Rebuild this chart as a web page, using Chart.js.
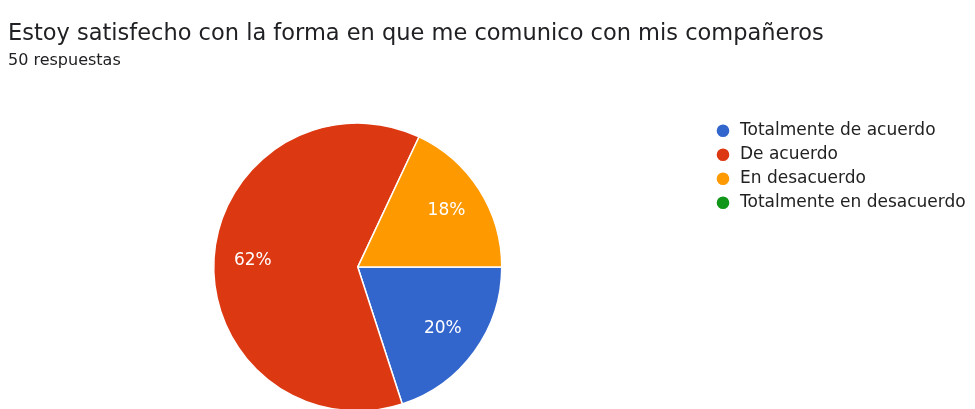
<!DOCTYPE html>
<html>
<head>
<meta charset="utf-8">
<script src="https://cdn.jsdelivr.net/npm/chart.js@4.4.0/dist/chart.umd.min.js"></script>
<style>
  html, body { margin: 0; padding: 0; background: #fff; overflow: hidden; }
  #wrap { width: 975px; height: 419px; }
</style>
</head>
<body>
<div id="wrap"><canvas id="pieChart"></canvas></div>
<script>
const titleText = 'Estoy satisfecho con la forma en que me comunico con mis compañeros';
const subtitleText = '50 respuestas';
const labels = ['Totalmente de acuerdo', 'De acuerdo', 'En desacuerdo', 'Totalmente en desacuerdo'];
const counts = [10, 31, 9, 0];
const colors = ['#3366cc', '#dc3912', '#ff9900', '#109618'];

const FONT = "'DejaVu Sans', 'Liberation Sans', sans-serif";

// porcentajes dentro de cada porción
const percentLabels = {
    id: 'percentLabels',
    afterDatasetsDraw(chart) {
        const ctx = chart.ctx;
        const meta = chart.getDatasetMeta(0);
        const total = counts.reduce((a, b) => a + b, 0);
        ctx.save();
        ctx.fillStyle = '#ffffff';
        ctx.font = '17px ' + FONT;
        ctx.textAlign = 'center';
        ctx.textBaseline = 'middle';
        meta.data.forEach((arc, i) => {
            if (!counts[i]) return;
            const p = arc.getProps(['x', 'y', 'startAngle', 'endAngle', 'outerRadius'], true);
            const mid = (p.startAngle + p.endAngle) / 2;
            const r = p.outerRadius * 0.73;
            const pct = Math.round(counts[i] / total * 100) + '%';
            ctx.fillText(pct, p.x + Math.cos(mid) * r, p.y + Math.sin(mid) * r);
        });
        ctx.restore();
    }
};

const ctx = document.getElementById('pieChart');

new Chart(ctx, {
    type: 'pie',
    data: {
        labels: labels,
        datasets: [{
            data: counts,
            backgroundColor: colors,
            borderColor: '#ffffff',
            borderWidth: 1.5
        }]
    },
    options: {
        responsive: true,
        maintainAspectRatio: false,
        animation: false,
        rotation: 90,
        radius: 144,
        layout: {
            padding: { left: 8, right: 0, top: 0, bottom: 0 }
        },
        plugins: {
            title: {
                display: true,
                text: titleText,
                align: 'start',
                color: '#202124',
                font: { family: FONT, size: 22.5, weight: 'normal' },
                padding: { top: 21, bottom: 0 }
            },
            subtitle: {
                display: true,
                text: subtitleText,
                align: 'start',
                color: '#202124',
                font: { family: FONT, size: 16, weight: 'normal' },
                padding: { top: 3, bottom: 45 }
            },
            legend: {
                position: 'right',
                align: 'start',
                fullSize: false,
                maxWidth: 267.5,
                labels: {
                    usePointStyle: true,
                    pointStyle: 'circle',
                    boxHeight: 10,
                    color: '#222222',
                    padding: 7,
                    font: { family: FONT, size: 17 }
                }
            },
            tooltip: { enabled: false }
        }
    },
    plugins: [percentLabels]
});
</script>
</body>
</html>
